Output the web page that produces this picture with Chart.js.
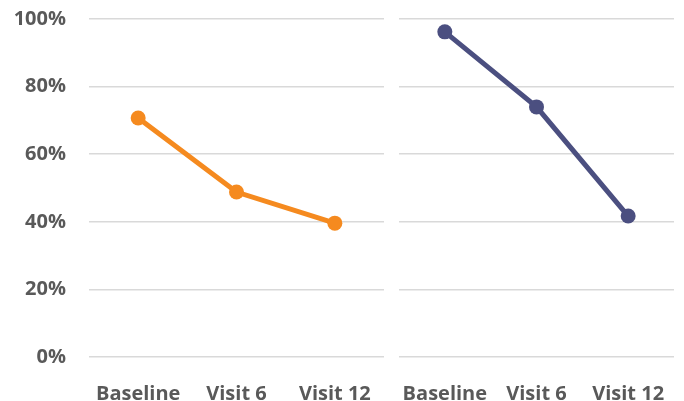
<!DOCTYPE html>
<html>
<head>
<meta charset="utf-8">
<script src="https://cdn.jsdelivr.net/npm/chart.js@4"></script>
<style>
  body { margin: 0; background: #fff; }
  #wrap { position: relative; width: 684px; height: 401px; }
  #left { position: absolute; left: 0; top: 0; }
  #right { position: absolute; left: 386px; top: 0; }
</style>
</head>
<body>
<div id="wrap">
  <canvas id="left" width="386" height="401"></canvas>
  <canvas id="right" width="298" height="401"></canvas>
</div>
<script>
const categories = ['Baseline', 'Visit 6', 'Visit 12']
const orangeValues = [70.7, 48.8, 39.6]
const blueValues = [96.2, 74.0, 41.7]
const yTicks = [0, 20, 40, 60, 80, 100]

const labelFont = { family: 'Open Sans', size: 20, weight: 'bold' }
const textColor = '#595959'
const gridColor = '#d9d9d9'

function makeChart(id, values, color, showY, pad){
    const ctx = document.getElementById(id).getContext('2d')
    return new Chart(ctx, {
        type: 'line',
        data: {
            labels: categories,
            datasets: [{
                data: values,
                borderColor: color,
                backgroundColor: color,
                borderWidth: 5,
                pointRadius: 7.5,
                pointHoverRadius: 7.5,
                pointBorderWidth: 0,
                tension: 0,
                clip: false
            }]
        },
        options: {
            responsive: false,
            animation: false,
            layout: { padding: pad, autoPadding: false },
            plugins: { legend: { display: false }, tooltip: { enabled: false } },
            scales: {
                x: {
                    offset: true,
                    grid: { display: false },
                    border: { display: false },
                    ticks: { color: textColor, font: labelFont, padding: 17, maxRotation: 0 },
                    afterFit: s => {
                        s.height = 44
                        s.paddingLeft = 0
                        s.paddingRight = 0
                    }
                },
                y: {
                    min: 0,
                    max: 100,
                    afterBuildTicks: s => { s.ticks = yTicks.map(v => ({ value: v })) },
                    grid: { color: gridColor, lineWidth: 1.5, drawTicks: false },
                    border: { display: false },
                    ticks: {
                        display: showY,
                        color: textColor,
                        font: labelFont,
                        padding: 23,
                        callback: v => v + '%'
                    },
                    afterFit: s => {
                        s.width = showY ? 89 : 0
                        s.paddingTop = 0
                        s.paddingBottom = 0
                    }
                }
            }
        }
    })
}

makeChart('left', orangeValues, '#F58A1F', true, { top: 19, right: 2, left: 0, bottom: 0 })
makeChart('right', blueValues, '#4B4F80', false, { top: 19, right: 10, left: 13, bottom: 0 })
</script>
</body>
</html>
